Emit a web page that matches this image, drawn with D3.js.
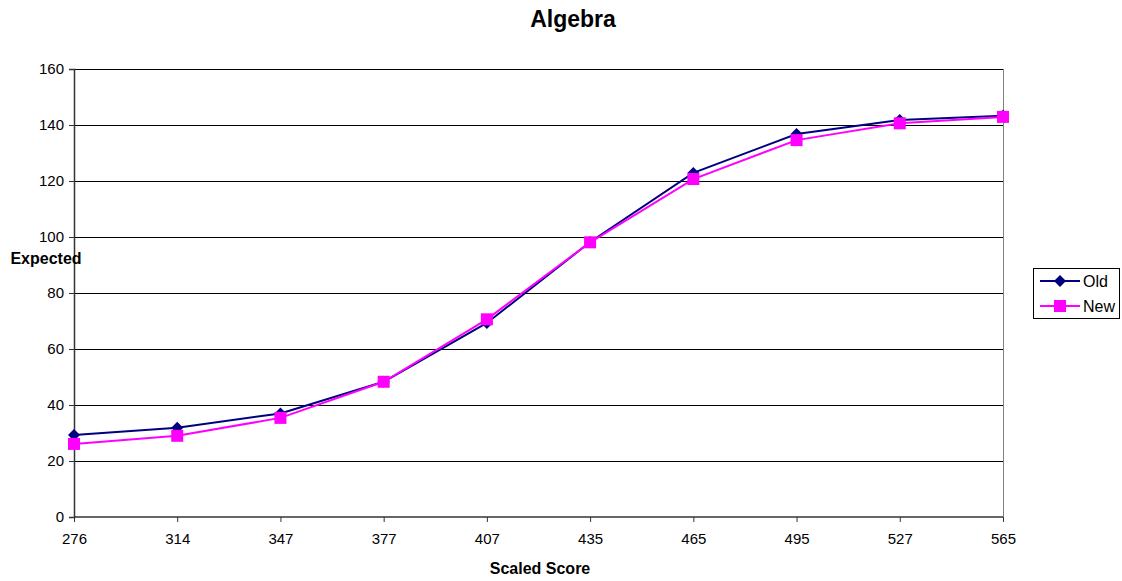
<!DOCTYPE html>
<html><head><meta charset="utf-8">
<script src="https://cdn.jsdelivr.net/npm/d3@7"></script>
<style>body{margin:0;background:#fff;}svg{display:block;font-family:"Liberation Sans",Arial,sans-serif;}</style>
</head><body><svg id="c" width="1122" height="581"></svg>
<script>
const categories = ["276","314","347","377","407","435","465","495","527","565"];
const oldValues = [29.3, 31.9, 37.0, 48.3, 69.3, 98.2, 122.9, 136.8, 141.8, 143.3];
const newValues = [26.1, 29.0, 35.4, 48.3, 70.6, 98.1, 120.7, 134.6, 140.6, 142.9];
const yTicks = [0,20,40,60,80,100,120,140,160];
const seriesNames = ["Old","New"];

const svg = d3.select("#c");
const L=74, R=1003, T=69, B=517;
const x = d3.scalePoint().domain(categories).range([L,R]);
const y = d3.scaleLinear().domain([0,160]).range([B,T]);

svg.append("g").selectAll("line").data(yTicks.filter(d=>d>0)).join("line")
  .attr("x1",L).attr("x2",R).attr("y1",d=>y(d)).attr("y2",d=>y(d))
  .attr("stroke","#000").attr("stroke-width",1).attr("shape-rendering","crispEdges");
svg.append("line").attr("x1",R).attr("x2",R).attr("y1",T).attr("y2",B).attr("stroke","#808080").attr("shape-rendering","crispEdges");

const yAxis = svg.append("g").attr("transform",`translate(${L},0)`)
  .call(d3.axisLeft(y).tickValues(yTicks).tickSize(5).tickPadding(5));
const xAxis = svg.append("g").attr("transform",`translate(0,${B})`)
  .call(d3.axisBottom(x).tickSize(5).tickPadding(11));
[yAxis,xAxis].forEach(a=>{
  a.attr("font-size",15).attr("font-family","Liberation Sans, Arial, sans-serif");
  a.select(".domain").attr("stroke","#333").attr("stroke-width",1.5);
  a.selectAll(".tick line").attr("stroke","#333");
  a.selectAll("text").attr("fill","#000");
});
xAxis.select(".domain").attr("d",`M${L},0H${R}`);

const line = d3.line().x((d,i)=>x(categories[i])).y(d=>y(d));
const cOld="#000080", cNew="#ff00ff";
const diamond = "M0,-6L6,0L0,6L-6,0Z";
svg.append("path").datum(oldValues).attr("d",line).attr("fill","none").attr("stroke",cOld).attr("stroke-width",2);
svg.append("path").datum(newValues).attr("d",line).attr("fill","none").attr("stroke",cNew).attr("stroke-width",2);
svg.append("g").selectAll("path").data(oldValues).join("path")
  .attr("d",diamond)
  .attr("transform",(d,i)=>`translate(${x(categories[i])},${y(d)})`).attr("fill",cOld);
svg.append("g").selectAll("rect").data(newValues).join("rect")
  .attr("x",(d,i)=>x(categories[i])-6).attr("y",d=>y(d)-6).attr("width",12).attr("height",12).attr("fill",cNew);

svg.append("text").attr("x",573).attr("y",27).attr("text-anchor","middle").attr("font-size",23).attr("font-weight","bold").text("Algebra");
svg.append("text").attr("x",540).attr("y",574).attr("text-anchor","middle").attr("font-size",16).attr("font-weight","bold").text("Scaled Score");
svg.append("text").attr("x",46).attr("y",264).attr("text-anchor","middle").attr("font-size",16).attr("font-weight","bold").text("Expected");

const lg = svg.append("g");
lg.append("rect").attr("x",1033.5).attr("y",268.5).attr("width",86).attr("height",50).attr("fill","#fff").attr("stroke","#000");
seriesNames.forEach((n,i)=>{
  const yy = 281 + i*25, col = i===0?cOld:cNew;
  lg.append("line").attr("x1",1040).attr("x2",1080).attr("y1",yy).attr("y2",yy).attr("stroke",col).attr("stroke-width",2);
  if(i===0) lg.append("path").attr("d",diamond).attr("transform",`translate(1060,${yy})`).attr("fill",col);
  else lg.append("rect").attr("x",1054).attr("y",yy-6).attr("width",12).attr("height",12).attr("fill",col);
  lg.append("text").attr("x",1083).attr("y",yy+5.5).attr("font-size",16).text(n);
});
</script></body></html>
